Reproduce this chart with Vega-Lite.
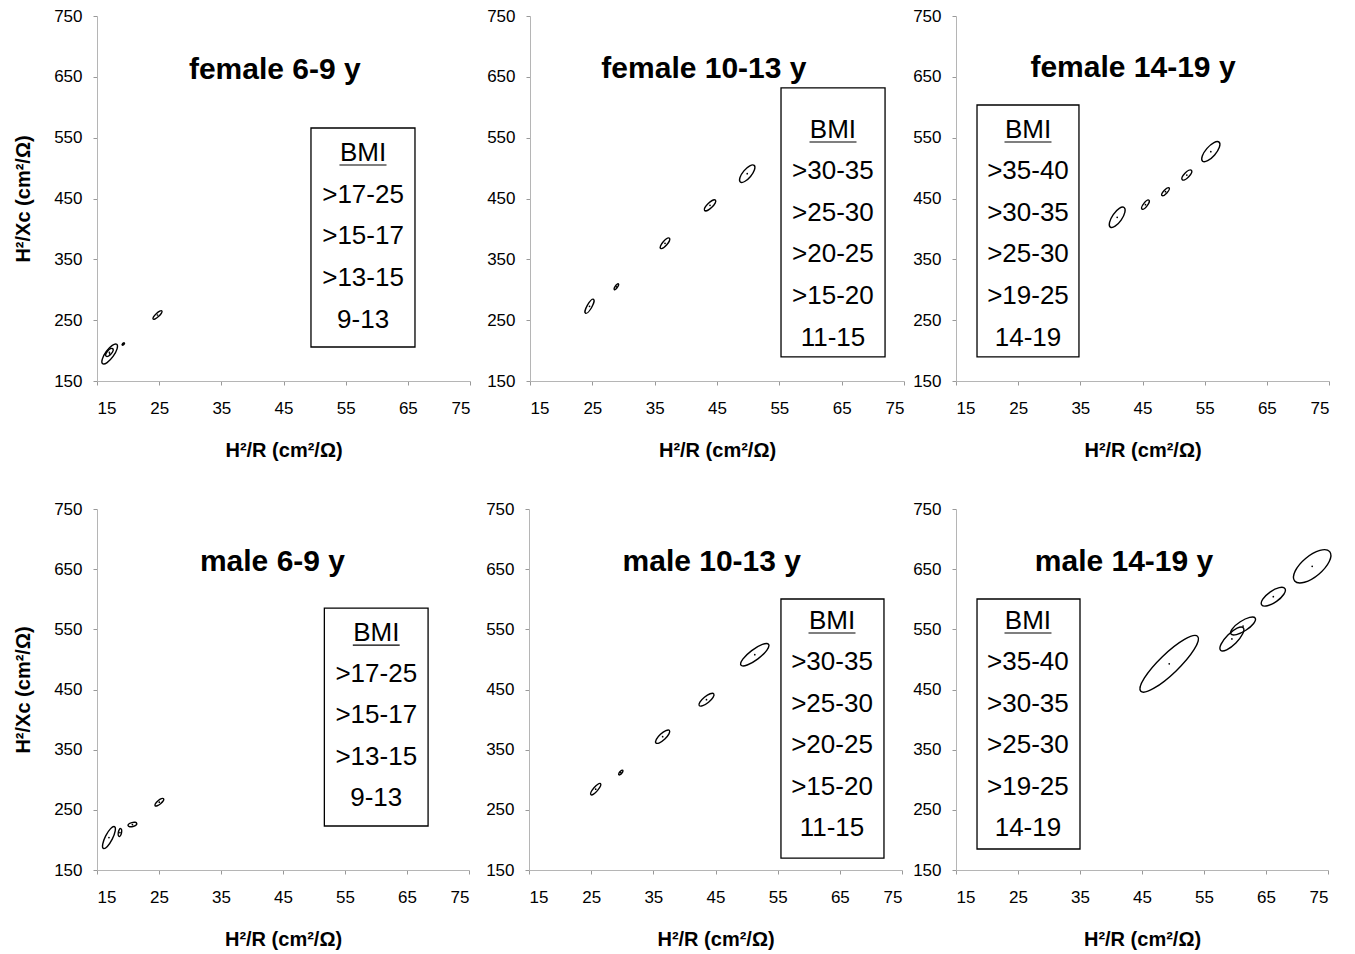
{
"$schema": "https://vega.github.io/schema/vega-lite/v6.json",
"padding": {"left": 13, "top": 7, "right": 5, "bottom": 5},
"config": {"font": "Liberation Sans", "view": {"stroke": null},
  "axis": {"labelFont": "Liberation Sans", "labelFontSize": 17, "labelColor": "black", "domainColor": "#b5b5b5", "tickColor": "#999999", "tickSize": 4, "grid": false, "titleFont": "Liberation Sans", "titleFontSize": 20, "titleFontWeight": "bold", "titleColor": "black"},
  "axisX": {"labelPadding": 15, "titlePadding": 24},
  "axisY": {"labelPadding": 11, "titlePadding": 20}},
"datasets": {
"ell": [
{"panel":"F1","bmi":"9-13","h2r":17.04,"h2xc":194.4,"spread":24,"ratio":"r35","tilt":54},
{"panel":"F1","bmi":">13-15","h2r":17.0,"h2xc":196.9,"spread":10,"ratio":"r45","tilt":50},
{"panel":"F1","bmi":">15-17","h2r":19.23,"h2xc":210.8,"spread":3,"ratio":"r55","tilt":45},
{"panel":"F1","bmi":">17-25","h2r":24.73,"h2xc":258.5,"spread":12,"ratio":"r30","tilt":43},
{"panel":"F2","bmi":"11-15","h2r":24.55,"h2xc":272.8,"spread":16,"ratio":"r30","tilt":60},
{"panel":"F2","bmi":">15-20","h2r":28.85,"h2xc":304.9,"spread":7,"ratio":"r35","tilt":55},
{"panel":"F2","bmi":">20-25","h2r":36.66,"h2xc":376.4,"spread":13.4,"ratio":"r35","tilt":48},
{"panel":"F2","bmi":">25-30","h2r":43.88,"h2xc":438.8,"spread":15,"ratio":"r35","tilt":43},
{"panel":"F2","bmi":">30-35","h2r":49.85,"h2xc":490.8,"spread":21.6,"ratio":"r40","tilt":50},
{"panel":"F3","bmi":"14-19","h2r":40.93,"h2xc":419.1,"spread":24,"ratio":"r40","tilt":55},
{"panel":"F3","bmi":">19-25","h2r":45.48,"h2xc":439.9,"spread":11.3,"ratio":"r35","tilt":52},
{"panel":"F3","bmi":">25-30","h2r":48.7,"h2xc":461.2,"spread":10.4,"ratio":"r35","tilt":47},
{"panel":"F3","bmi":">30-35","h2r":52.13,"h2xc":488.6,"spread":13,"ratio":"r40","tilt":46},
{"panel":"F3","bmi":">35-40","h2r":55.99,"h2xc":527,"spread":25.2,"ratio":"r40","tilt":49},
{"panel":"M1","bmi":"9-13","h2r":16.93,"h2xc":204,"spread":24.5,"ratio":"r30","tilt":63},
{"panel":"M1","bmi":">13-15","h2r":18.7,"h2xc":212.3,"spread":8,"ratio":"r40","tilt":80},
{"panel":"M1","bmi":">15-17","h2r":20.71,"h2xc":225.6,"spread":9,"ratio":"r45","tilt":15},
{"panel":"M1","bmi":">17-25","h2r":25.05,"h2xc":262.7,"spread":11,"ratio":"r35","tilt":40},
{"panel":"M2","bmi":"11-15","h2r":25.73,"h2xc":284.3,"spread":14.7,"ratio":"r30","tilt":50},
{"panel":"M2","bmi":">15-20","h2r":29.77,"h2xc":312,"spread":6,"ratio":"r40","tilt":50},
{"panel":"M2","bmi":">20-25","h2r":36.5,"h2xc":371.6,"spread":18.4,"ratio":"r35","tilt":43},
{"panel":"M2","bmi":">25-30","h2r":43.55,"h2xc":433,"spread":18.7,"ratio":"r35","tilt":39},
{"panel":"M2","bmi":">30-35","h2r":51.32,"h2xc":507.8,"spread":34.6,"ratio":"r30","tilt":37},
{"panel":"M3","bmi":"14-19","h2r":49.39,"h2xc":492.7,"spread":79,"ratio":"r25","tilt":44},
{"panel":"M3","bmi":">19-25","h2r":59.5,"h2xc":534,"spread":32,"ratio":"r35","tilt":45},
{"panel":"M3","bmi":">25-30","h2r":61.3,"h2xc":555.5,"spread":29,"ratio":"r35","tilt":33},
{"panel":"M3","bmi":">30-35","h2r":66.18,"h2xc":604.2,"spread":28.4,"ratio":"r40","tilt":35},
{"panel":"M3","bmi":">35-40","h2r":72.45,"h2xc":654.7,"spread":45.7,"ratio":"r45","tilt":40}
],
"box": [
{"panel":"F1","bx1":49.42,"bx2":66.15,"by1":205.9,"by2":565.9,"ux1":54.0,"ux2":61.57,"uy":505.1},
{"panel":"F2","bx1":55.27,"bx2":71.96,"by1":189.5,"by2":631.7,"ux1":59.84,"ux2":67.38,"uy":542.9},
{"panel":"F3","bx1":18.38,"bx2":34.78,"by1":189.5,"by2":603.7,"ux1":22.8,"ux2":30.36,"uy":542.9},
{"panel":"M1","bx1":51.67,"bx2":68.4,"by1":223.1,"by2":585.4,"ux1":56.26,"ux2":63.82,"uy":523.9},
{"panel":"M2","bx1":55.53,"bx2":72.1,"by1":169.9,"by2":600.4,"ux1":59.96,"ux2":67.52,"uy":543.9},
{"panel":"M3","bx1":18.39,"bx2":35.0,"by1":184.9,"by2":600.4,"ux1":22.82,"ux2":30.4,"uy":543.9}
],
"lab": [
{"panel":"F1","label":"BMI","lx":57.8,"ly":524.8},
{"panel":"F1","label":">17-25","lx":57.8,"ly":455.8},
{"panel":"F1","label":">15-17","lx":57.8,"ly":388.4},
{"panel":"F1","label":">13-15","lx":57.8,"ly":319.3},
{"panel":"F1","label":"9-13","lx":57.8,"ly":250.3},
{"panel":"F2","label":"BMI","lx":63.6,"ly":562.6},
{"panel":"F2","label":">30-35","lx":63.6,"ly":495.2},
{"panel":"F2","label":">25-30","lx":63.6,"ly":426.2},
{"panel":"F2","label":">20-25","lx":63.6,"ly":358.8},
{"panel":"F2","label":">15-20","lx":63.6,"ly":289.7},
{"panel":"F2","label":"11-15","lx":63.6,"ly":220.7},
{"panel":"F3","label":"BMI","lx":26.58,"ly":562.6},
{"panel":"F3","label":">35-40","lx":26.58,"ly":495.2},
{"panel":"F3","label":">30-35","lx":26.58,"ly":426.2},
{"panel":"F3","label":">25-30","lx":26.58,"ly":358.8},
{"panel":"F3","label":">19-25","lx":26.58,"ly":289.7},
{"panel":"F3","label":"14-19","lx":26.58,"ly":220.7},
{"panel":"M1","label":"BMI","lx":60.04,"ly":543.9},
{"panel":"M1","label":">17-25","lx":60.04,"ly":475.7},
{"panel":"M1","label":">15-17","lx":60.04,"ly":407.6},
{"panel":"M1","label":">13-15","lx":60.04,"ly":337.8},
{"panel":"M1","label":"9-13","lx":60.04,"ly":269.7},
{"panel":"M2","label":"BMI","lx":63.74,"ly":563.8},
{"panel":"M2","label":">30-35","lx":63.74,"ly":495.7},
{"panel":"M2","label":">25-30","lx":63.74,"ly":425.9},
{"panel":"M2","label":">20-25","lx":63.74,"ly":357.7},
{"panel":"M2","label":">15-20","lx":63.74,"ly":287.9},
{"panel":"M2","label":"11-15","lx":63.74,"ly":219.8},
{"panel":"M3","label":"BMI","lx":26.6,"ly":563.8},
{"panel":"M3","label":">35-40","lx":26.6,"ly":495.7},
{"panel":"M3","label":">30-35","lx":26.6,"ly":425.9},
{"panel":"M3","label":">25-30","lx":26.6,"ly":357.7},
{"panel":"M3","label":">19-25","lx":26.6,"ly":287.9},
{"panel":"M3","label":"14-19","lx":26.6,"ly":219.8}
],
"ttl": [
{"panel":"F1","title":"female 6-9 y","tx":43.6,"ty":661.3},
{"panel":"F2","title":"female 10-13 y","tx":42.9,"ty":662.9},
{"panel":"F3","title":"female 14-19 y","tx":43.47,"ty":664.5},
{"panel":"M1","title":"male 6-9 y","tx":43.3,"ty":661.9},
{"panel":"M2","title":"male 10-13 y","tx":44.4,"ty":661.9},
{"panel":"M3","title":"male 14-19 y","tx":42.1,"ty":661.9}
]
},
"bounds": "full",
"spacing": 40,
"vconcat": [
{"bounds": "flush", "spacing": 60, "hconcat": [
 {"width": 373, "height": 365, "layer": [
  {"data": {"name": "box"}, "transform": [{"filter": "datum.panel == 'F1'"}], "mark": {"type": "rect", "filled": false, "color": "black", "strokeWidth": 1.3},
   "encoding": {"x": {"field": "bx1", "type": "quantitative", "scale": {"domain": [15, 75], "nice": false, "zero": false}, "axis": {"values": [15,25,35,45,55,65,75], "title": "H²/R (cm²/Ω)"}},
    "x2": {"field": "bx2"},
    "y": {"field": "by1", "type": "quantitative", "scale": {"domain": [150, 750], "nice": false, "zero": false}, "axis": {"values": [150,250,350,450,550,650,750], "title": "H²/Xc (cm²/Ω)"}},
    "y2": {"field": "by2"}}},
  {"data": {"name": "box"}, "transform": [{"filter": "datum.panel == 'F1'"}], "mark": {"type": "rule", "color": "black", "strokeWidth": 1.2},
   "encoding": {"x": {"field": "ux1", "type": "quantitative"}, "x2": {"field": "ux2"}, "y": {"field": "uy", "type": "quantitative"}}},
  {"data": {"name": "lab"}, "transform": [{"filter": "datum.panel == 'F1'"}], "mark": {"type": "text", "fontSize": 26, "color": "black", "align": "center", "baseline": "middle"},
   "encoding": {"x": {"field": "lx", "type": "quantitative"}, "y": {"field": "ly", "type": "quantitative"}, "text": {"field": "label"}}},
  {"data": {"name": "ttl"}, "transform": [{"filter": "datum.panel == 'F1'"}], "mark": {"type": "text", "fontSize": 30, "fontWeight": "bold", "color": "black", "align": "center", "baseline": "middle"},
   "encoding": {"x": {"field": "tx", "type": "quantitative"}, "y": {"field": "ty", "type": "quantitative"}, "text": {"field": "title"}}},
  {"data": {"name": "ell"}, "transform": [{"filter": "datum.panel == 'F1'"}], "mark": {"type": "point", "filled": false, "color": "black", "strokeWidth": 1.4, "opacity": 1},
   "encoding": {"x": {"field": "h2r", "type": "quantitative"}, "y": {"field": "h2xc", "type": "quantitative"},
    "size": {"field": "spread", "type": "quantitative", "scale": {"type": "pow", "exponent": 2, "domain": [0, 100], "range": [0, 10000]}, "legend": null},
    "shape": {"field": "ratio", "type": "nominal", "scale": {"domain": ["r25","r30","r35","r40","r45","r55"], "range": ["M 1 0 C 1 0.138 0.552 0.25 0 0.25 C -0.552 0.25 -1 0.138 -1 0 C -1 -0.138 -0.552 -0.25 0 -0.25 C 0.552 -0.25 1 -0.138 1 0 Z","M 1 0 C 1 0.166 0.552 0.3 0 0.3 C -0.552 0.3 -1 0.166 -1 0 C -1 -0.166 -0.552 -0.3 0 -0.3 C 0.552 -0.3 1 -0.166 1 0 Z","M 1 0 C 1 0.193 0.552 0.35 0 0.35 C -0.552 0.35 -1 0.193 -1 0 C -1 -0.193 -0.552 -0.35 0 -0.35 C 0.552 -0.35 1 -0.193 1 0 Z","M 1 0 C 1 0.221 0.552 0.4 0 0.4 C -0.552 0.4 -1 0.221 -1 0 C -1 -0.221 -0.552 -0.4 0 -0.4 C 0.552 -0.4 1 -0.221 1 0 Z","M 1 0 C 1 0.249 0.552 0.45 0 0.45 C -0.552 0.45 -1 0.249 -1 0 C -1 -0.249 -0.552 -0.45 0 -0.45 C 0.552 -0.45 1 -0.249 1 0 Z","M 1 0 C 1 0.304 0.552 0.55 0 0.55 C -0.552 0.55 -1 0.304 -1 0 C -1 -0.304 -0.552 -0.55 0 -0.55 C 0.552 -0.55 1 -0.304 1 0 Z"]}, "legend": null},
    "angle": {"field": "tilt", "type": "quantitative", "scale": {"domain": [0, 90], "range": [360, 270]}, "legend": null}}},
  {"data": {"name": "ell"}, "transform": [{"filter": "datum.panel == 'F1'"}], "mark": {"type": "point", "filled": true, "color": "black", "size": 3, "opacity": 1, "shape": "circle"},
   "encoding": {"x": {"field": "h2r", "type": "quantitative"}, "y": {"field": "h2xc", "type": "quantitative"}}}
 ]},
 {"bounds": "flush", "spacing": 52, "hconcat": [
  {"width": 374, "height": 365, "layer": [
   {"data": {"name": "box"}, "transform": [{"filter": "datum.panel == 'F2'"}], "mark": {"type": "rect", "filled": false, "color": "black", "strokeWidth": 1.3},
    "encoding": {"x": {"field": "bx1", "type": "quantitative", "scale": {"domain": [15, 75], "nice": false, "zero": false}, "axis": {"values": [15,25,35,45,55,65,75], "title": "H²/R (cm²/Ω)"}},
     "x2": {"field": "bx2"},
     "y": {"field": "by1", "type": "quantitative", "scale": {"domain": [150, 750], "nice": false, "zero": false}, "axis": {"values": [150,250,350,450,550,650,750], "title": null}},
     "y2": {"field": "by2"}}},
   {"data": {"name": "box"}, "transform": [{"filter": "datum.panel == 'F2'"}], "mark": {"type": "rule", "color": "black", "strokeWidth": 1.2},
    "encoding": {"x": {"field": "ux1", "type": "quantitative"}, "x2": {"field": "ux2"}, "y": {"field": "uy", "type": "quantitative"}}},
   {"data": {"name": "lab"}, "transform": [{"filter": "datum.panel == 'F2'"}], "mark": {"type": "text", "fontSize": 26, "color": "black", "align": "center", "baseline": "middle"},
    "encoding": {"x": {"field": "lx", "type": "quantitative"}, "y": {"field": "ly", "type": "quantitative"}, "text": {"field": "label"}}},
   {"data": {"name": "ttl"}, "transform": [{"filter": "datum.panel == 'F2'"}], "mark": {"type": "text", "fontSize": 30, "fontWeight": "bold", "color": "black", "align": "center", "baseline": "middle"},
    "encoding": {"x": {"field": "tx", "type": "quantitative"}, "y": {"field": "ty", "type": "quantitative"}, "text": {"field": "title"}}},
   {"data": {"name": "ell"}, "transform": [{"filter": "datum.panel == 'F2'"}], "mark": {"type": "point", "filled": false, "color": "black", "strokeWidth": 1.4, "opacity": 1},
    "encoding": {"x": {"field": "h2r", "type": "quantitative"}, "y": {"field": "h2xc", "type": "quantitative"},
     "size": {"field": "spread", "type": "quantitative", "scale": {"type": "pow", "exponent": 2, "domain": [0, 100], "range": [0, 10000]}, "legend": null},
     "shape": {"field": "ratio", "type": "nominal", "scale": {"domain": ["r25","r30","r35","r40","r45","r55"], "range": ["M 1 0 C 1 0.138 0.552 0.25 0 0.25 C -0.552 0.25 -1 0.138 -1 0 C -1 -0.138 -0.552 -0.25 0 -0.25 C 0.552 -0.25 1 -0.138 1 0 Z","M 1 0 C 1 0.166 0.552 0.3 0 0.3 C -0.552 0.3 -1 0.166 -1 0 C -1 -0.166 -0.552 -0.3 0 -0.3 C 0.552 -0.3 1 -0.166 1 0 Z","M 1 0 C 1 0.193 0.552 0.35 0 0.35 C -0.552 0.35 -1 0.193 -1 0 C -1 -0.193 -0.552 -0.35 0 -0.35 C 0.552 -0.35 1 -0.193 1 0 Z","M 1 0 C 1 0.221 0.552 0.4 0 0.4 C -0.552 0.4 -1 0.221 -1 0 C -1 -0.221 -0.552 -0.4 0 -0.4 C 0.552 -0.4 1 -0.221 1 0 Z","M 1 0 C 1 0.249 0.552 0.45 0 0.45 C -0.552 0.45 -1 0.249 -1 0 C -1 -0.249 -0.552 -0.45 0 -0.45 C 0.552 -0.45 1 -0.249 1 0 Z","M 1 0 C 1 0.304 0.552 0.55 0 0.55 C -0.552 0.55 -1 0.304 -1 0 C -1 -0.304 -0.552 -0.55 0 -0.55 C 0.552 -0.55 1 -0.304 1 0 Z"]}, "legend": null},
     "angle": {"field": "tilt", "type": "quantitative", "scale": {"domain": [0, 90], "range": [360, 270]}, "legend": null}}},
   {"data": {"name": "ell"}, "transform": [{"filter": "datum.panel == 'F2'"}], "mark": {"type": "point", "filled": true, "color": "black", "size": 3, "opacity": 1, "shape": "circle"},
    "encoding": {"x": {"field": "h2r", "type": "quantitative"}, "y": {"field": "h2xc", "type": "quantitative"}}}
  ]},
  {"width": 373, "height": 365, "layer": [
   {"data": {"name": "box"}, "transform": [{"filter": "datum.panel == 'F3'"}], "mark": {"type": "rect", "filled": false, "color": "black", "strokeWidth": 1.3},
    "encoding": {"x": {"field": "bx1", "type": "quantitative", "scale": {"domain": [15, 75], "nice": false, "zero": false}, "axis": {"values": [15,25,35,45,55,65,75], "title": "H²/R (cm²/Ω)"}},
     "x2": {"field": "bx2"},
     "y": {"field": "by1", "type": "quantitative", "scale": {"domain": [150, 750], "nice": false, "zero": false}, "axis": {"values": [150,250,350,450,550,650,750], "title": null}},
     "y2": {"field": "by2"}}},
   {"data": {"name": "box"}, "transform": [{"filter": "datum.panel == 'F3'"}], "mark": {"type": "rule", "color": "black", "strokeWidth": 1.2},
    "encoding": {"x": {"field": "ux1", "type": "quantitative"}, "x2": {"field": "ux2"}, "y": {"field": "uy", "type": "quantitative"}}},
   {"data": {"name": "lab"}, "transform": [{"filter": "datum.panel == 'F3'"}], "mark": {"type": "text", "fontSize": 26, "color": "black", "align": "center", "baseline": "middle"},
    "encoding": {"x": {"field": "lx", "type": "quantitative"}, "y": {"field": "ly", "type": "quantitative"}, "text": {"field": "label"}}},
   {"data": {"name": "ttl"}, "transform": [{"filter": "datum.panel == 'F3'"}], "mark": {"type": "text", "fontSize": 30, "fontWeight": "bold", "color": "black", "align": "center", "baseline": "middle"},
    "encoding": {"x": {"field": "tx", "type": "quantitative"}, "y": {"field": "ty", "type": "quantitative"}, "text": {"field": "title"}}},
   {"data": {"name": "ell"}, "transform": [{"filter": "datum.panel == 'F3'"}], "mark": {"type": "point", "filled": false, "color": "black", "strokeWidth": 1.4, "opacity": 1},
    "encoding": {"x": {"field": "h2r", "type": "quantitative"}, "y": {"field": "h2xc", "type": "quantitative"},
     "size": {"field": "spread", "type": "quantitative", "scale": {"type": "pow", "exponent": 2, "domain": [0, 100], "range": [0, 10000]}, "legend": null},
     "shape": {"field": "ratio", "type": "nominal", "scale": {"domain": ["r25","r30","r35","r40","r45","r55"], "range": ["M 1 0 C 1 0.138 0.552 0.25 0 0.25 C -0.552 0.25 -1 0.138 -1 0 C -1 -0.138 -0.552 -0.25 0 -0.25 C 0.552 -0.25 1 -0.138 1 0 Z","M 1 0 C 1 0.166 0.552 0.3 0 0.3 C -0.552 0.3 -1 0.166 -1 0 C -1 -0.166 -0.552 -0.3 0 -0.3 C 0.552 -0.3 1 -0.166 1 0 Z","M 1 0 C 1 0.193 0.552 0.35 0 0.35 C -0.552 0.35 -1 0.193 -1 0 C -1 -0.193 -0.552 -0.35 0 -0.35 C 0.552 -0.35 1 -0.193 1 0 Z","M 1 0 C 1 0.221 0.552 0.4 0 0.4 C -0.552 0.4 -1 0.221 -1 0 C -1 -0.221 -0.552 -0.4 0 -0.4 C 0.552 -0.4 1 -0.221 1 0 Z","M 1 0 C 1 0.249 0.552 0.45 0 0.45 C -0.552 0.45 -1 0.249 -1 0 C -1 -0.249 -0.552 -0.45 0 -0.45 C 0.552 -0.45 1 -0.249 1 0 Z","M 1 0 C 1 0.304 0.552 0.55 0 0.55 C -0.552 0.55 -1 0.304 -1 0 C -1 -0.304 -0.552 -0.55 0 -0.55 C 0.552 -0.55 1 -0.304 1 0 Z"]}, "legend": null},
     "angle": {"field": "tilt", "type": "quantitative", "scale": {"domain": [0, 90], "range": [360, 270]}, "legend": null}}},
   {"data": {"name": "ell"}, "transform": [{"filter": "datum.panel == 'F3'"}], "mark": {"type": "point", "filled": true, "color": "black", "size": 3, "opacity": 1, "shape": "circle"},
    "encoding": {"x": {"field": "h2r", "type": "quantitative"}, "y": {"field": "h2xc", "type": "quantitative"}}}
  ]}
 ]}
]},
{"bounds": "flush", "spacing": 60, "hconcat": [
 {"width": 372, "height": 361, "layer": [
  {"data": {"name": "box"}, "transform": [{"filter": "datum.panel == 'M1'"}], "mark": {"type": "rect", "filled": false, "color": "black", "strokeWidth": 1.3},
   "encoding": {"x": {"field": "bx1", "type": "quantitative", "scale": {"domain": [15, 75], "nice": false, "zero": false}, "axis": {"values": [15,25,35,45,55,65,75], "title": "H²/R (cm²/Ω)"}},
    "x2": {"field": "bx2"},
    "y": {"field": "by1", "type": "quantitative", "scale": {"domain": [150, 750], "nice": false, "zero": false}, "axis": {"values": [150,250,350,450,550,650,750], "title": "H²/Xc (cm²/Ω)"}},
    "y2": {"field": "by2"}}},
  {"data": {"name": "box"}, "transform": [{"filter": "datum.panel == 'M1'"}], "mark": {"type": "rule", "color": "black", "strokeWidth": 1.2},
   "encoding": {"x": {"field": "ux1", "type": "quantitative"}, "x2": {"field": "ux2"}, "y": {"field": "uy", "type": "quantitative"}}},
  {"data": {"name": "lab"}, "transform": [{"filter": "datum.panel == 'M1'"}], "mark": {"type": "text", "fontSize": 26, "color": "black", "align": "center", "baseline": "middle"},
   "encoding": {"x": {"field": "lx", "type": "quantitative"}, "y": {"field": "ly", "type": "quantitative"}, "text": {"field": "label"}}},
  {"data": {"name": "ttl"}, "transform": [{"filter": "datum.panel == 'M1'"}], "mark": {"type": "text", "fontSize": 30, "fontWeight": "bold", "color": "black", "align": "center", "baseline": "middle"},
   "encoding": {"x": {"field": "tx", "type": "quantitative"}, "y": {"field": "ty", "type": "quantitative"}, "text": {"field": "title"}}},
  {"data": {"name": "ell"}, "transform": [{"filter": "datum.panel == 'M1'"}], "mark": {"type": "point", "filled": false, "color": "black", "strokeWidth": 1.4, "opacity": 1},
   "encoding": {"x": {"field": "h2r", "type": "quantitative"}, "y": {"field": "h2xc", "type": "quantitative"},
    "size": {"field": "spread", "type": "quantitative", "scale": {"type": "pow", "exponent": 2, "domain": [0, 100], "range": [0, 10000]}, "legend": null},
    "shape": {"field": "ratio", "type": "nominal", "scale": {"domain": ["r25","r30","r35","r40","r45","r55"], "range": ["M 1 0 C 1 0.138 0.552 0.25 0 0.25 C -0.552 0.25 -1 0.138 -1 0 C -1 -0.138 -0.552 -0.25 0 -0.25 C 0.552 -0.25 1 -0.138 1 0 Z","M 1 0 C 1 0.166 0.552 0.3 0 0.3 C -0.552 0.3 -1 0.166 -1 0 C -1 -0.166 -0.552 -0.3 0 -0.3 C 0.552 -0.3 1 -0.166 1 0 Z","M 1 0 C 1 0.193 0.552 0.35 0 0.35 C -0.552 0.35 -1 0.193 -1 0 C -1 -0.193 -0.552 -0.35 0 -0.35 C 0.552 -0.35 1 -0.193 1 0 Z","M 1 0 C 1 0.221 0.552 0.4 0 0.4 C -0.552 0.4 -1 0.221 -1 0 C -1 -0.221 -0.552 -0.4 0 -0.4 C 0.552 -0.4 1 -0.221 1 0 Z","M 1 0 C 1 0.249 0.552 0.45 0 0.45 C -0.552 0.45 -1 0.249 -1 0 C -1 -0.249 -0.552 -0.45 0 -0.45 C 0.552 -0.45 1 -0.249 1 0 Z","M 1 0 C 1 0.304 0.552 0.55 0 0.55 C -0.552 0.55 -1 0.304 -1 0 C -1 -0.304 -0.552 -0.55 0 -0.55 C 0.552 -0.55 1 -0.304 1 0 Z"]}, "legend": null},
    "angle": {"field": "tilt", "type": "quantitative", "scale": {"domain": [0, 90], "range": [360, 270]}, "legend": null}}},
  {"data": {"name": "ell"}, "transform": [{"filter": "datum.panel == 'M1'"}], "mark": {"type": "point", "filled": true, "color": "black", "size": 3, "opacity": 1, "shape": "circle"},
   "encoding": {"x": {"field": "h2r", "type": "quantitative"}, "y": {"field": "h2xc", "type": "quantitative"}}}
 ]},
 {"bounds": "flush", "spacing": 54, "hconcat": [
  {"width": 373, "height": 361, "layer": [
   {"data": {"name": "box"}, "transform": [{"filter": "datum.panel == 'M2'"}], "mark": {"type": "rect", "filled": false, "color": "black", "strokeWidth": 1.3},
    "encoding": {"x": {"field": "bx1", "type": "quantitative", "scale": {"domain": [15, 75], "nice": false, "zero": false}, "axis": {"values": [15,25,35,45,55,65,75], "title": "H²/R (cm²/Ω)"}},
     "x2": {"field": "bx2"},
     "y": {"field": "by1", "type": "quantitative", "scale": {"domain": [150, 750], "nice": false, "zero": false}, "axis": {"values": [150,250,350,450,550,650,750], "title": null}},
     "y2": {"field": "by2"}}},
   {"data": {"name": "box"}, "transform": [{"filter": "datum.panel == 'M2'"}], "mark": {"type": "rule", "color": "black", "strokeWidth": 1.2},
    "encoding": {"x": {"field": "ux1", "type": "quantitative"}, "x2": {"field": "ux2"}, "y": {"field": "uy", "type": "quantitative"}}},
   {"data": {"name": "lab"}, "transform": [{"filter": "datum.panel == 'M2'"}], "mark": {"type": "text", "fontSize": 26, "color": "black", "align": "center", "baseline": "middle"},
    "encoding": {"x": {"field": "lx", "type": "quantitative"}, "y": {"field": "ly", "type": "quantitative"}, "text": {"field": "label"}}},
   {"data": {"name": "ttl"}, "transform": [{"filter": "datum.panel == 'M2'"}], "mark": {"type": "text", "fontSize": 30, "fontWeight": "bold", "color": "black", "align": "center", "baseline": "middle"},
    "encoding": {"x": {"field": "tx", "type": "quantitative"}, "y": {"field": "ty", "type": "quantitative"}, "text": {"field": "title"}}},
   {"data": {"name": "ell"}, "transform": [{"filter": "datum.panel == 'M2'"}], "mark": {"type": "point", "filled": false, "color": "black", "strokeWidth": 1.4, "opacity": 1},
    "encoding": {"x": {"field": "h2r", "type": "quantitative"}, "y": {"field": "h2xc", "type": "quantitative"},
     "size": {"field": "spread", "type": "quantitative", "scale": {"type": "pow", "exponent": 2, "domain": [0, 100], "range": [0, 10000]}, "legend": null},
     "shape": {"field": "ratio", "type": "nominal", "scale": {"domain": ["r25","r30","r35","r40","r45","r55"], "range": ["M 1 0 C 1 0.138 0.552 0.25 0 0.25 C -0.552 0.25 -1 0.138 -1 0 C -1 -0.138 -0.552 -0.25 0 -0.25 C 0.552 -0.25 1 -0.138 1 0 Z","M 1 0 C 1 0.166 0.552 0.3 0 0.3 C -0.552 0.3 -1 0.166 -1 0 C -1 -0.166 -0.552 -0.3 0 -0.3 C 0.552 -0.3 1 -0.166 1 0 Z","M 1 0 C 1 0.193 0.552 0.35 0 0.35 C -0.552 0.35 -1 0.193 -1 0 C -1 -0.193 -0.552 -0.35 0 -0.35 C 0.552 -0.35 1 -0.193 1 0 Z","M 1 0 C 1 0.221 0.552 0.4 0 0.4 C -0.552 0.4 -1 0.221 -1 0 C -1 -0.221 -0.552 -0.4 0 -0.4 C 0.552 -0.4 1 -0.221 1 0 Z","M 1 0 C 1 0.249 0.552 0.45 0 0.45 C -0.552 0.45 -1 0.249 -1 0 C -1 -0.249 -0.552 -0.45 0 -0.45 C 0.552 -0.45 1 -0.249 1 0 Z","M 1 0 C 1 0.304 0.552 0.55 0 0.55 C -0.552 0.55 -1 0.304 -1 0 C -1 -0.304 -0.552 -0.55 0 -0.55 C 0.552 -0.55 1 -0.304 1 0 Z"]}, "legend": null},
     "angle": {"field": "tilt", "type": "quantitative", "scale": {"domain": [0, 90], "range": [360, 270]}, "legend": null}}},
   {"data": {"name": "ell"}, "transform": [{"filter": "datum.panel == 'M2'"}], "mark": {"type": "point", "filled": true, "color": "black", "size": 3, "opacity": 1, "shape": "circle"},
    "encoding": {"x": {"field": "h2r", "type": "quantitative"}, "y": {"field": "h2xc", "type": "quantitative"}}}
  ]},
  {"width": 372, "height": 361, "layer": [
   {"data": {"name": "box"}, "transform": [{"filter": "datum.panel == 'M3'"}], "mark": {"type": "rect", "filled": false, "color": "black", "strokeWidth": 1.3},
    "encoding": {"x": {"field": "bx1", "type": "quantitative", "scale": {"domain": [15, 75], "nice": false, "zero": false}, "axis": {"values": [15,25,35,45,55,65,75], "title": "H²/R (cm²/Ω)"}},
     "x2": {"field": "bx2"},
     "y": {"field": "by1", "type": "quantitative", "scale": {"domain": [150, 750], "nice": false, "zero": false}, "axis": {"values": [150,250,350,450,550,650,750], "title": null}},
     "y2": {"field": "by2"}}},
   {"data": {"name": "box"}, "transform": [{"filter": "datum.panel == 'M3'"}], "mark": {"type": "rule", "color": "black", "strokeWidth": 1.2},
    "encoding": {"x": {"field": "ux1", "type": "quantitative"}, "x2": {"field": "ux2"}, "y": {"field": "uy", "type": "quantitative"}}},
   {"data": {"name": "lab"}, "transform": [{"filter": "datum.panel == 'M3'"}], "mark": {"type": "text", "fontSize": 26, "color": "black", "align": "center", "baseline": "middle"},
    "encoding": {"x": {"field": "lx", "type": "quantitative"}, "y": {"field": "ly", "type": "quantitative"}, "text": {"field": "label"}}},
   {"data": {"name": "ttl"}, "transform": [{"filter": "datum.panel == 'M3'"}], "mark": {"type": "text", "fontSize": 30, "fontWeight": "bold", "color": "black", "align": "center", "baseline": "middle"},
    "encoding": {"x": {"field": "tx", "type": "quantitative"}, "y": {"field": "ty", "type": "quantitative"}, "text": {"field": "title"}}},
   {"data": {"name": "ell"}, "transform": [{"filter": "datum.panel == 'M3'"}], "mark": {"type": "point", "filled": false, "color": "black", "strokeWidth": 1.4, "opacity": 1},
    "encoding": {"x": {"field": "h2r", "type": "quantitative"}, "y": {"field": "h2xc", "type": "quantitative"},
     "size": {"field": "spread", "type": "quantitative", "scale": {"type": "pow", "exponent": 2, "domain": [0, 100], "range": [0, 10000]}, "legend": null},
     "shape": {"field": "ratio", "type": "nominal", "scale": {"domain": ["r25","r30","r35","r40","r45","r55"], "range": ["M 1 0 C 1 0.138 0.552 0.25 0 0.25 C -0.552 0.25 -1 0.138 -1 0 C -1 -0.138 -0.552 -0.25 0 -0.25 C 0.552 -0.25 1 -0.138 1 0 Z","M 1 0 C 1 0.166 0.552 0.3 0 0.3 C -0.552 0.3 -1 0.166 -1 0 C -1 -0.166 -0.552 -0.3 0 -0.3 C 0.552 -0.3 1 -0.166 1 0 Z","M 1 0 C 1 0.193 0.552 0.35 0 0.35 C -0.552 0.35 -1 0.193 -1 0 C -1 -0.193 -0.552 -0.35 0 -0.35 C 0.552 -0.35 1 -0.193 1 0 Z","M 1 0 C 1 0.221 0.552 0.4 0 0.4 C -0.552 0.4 -1 0.221 -1 0 C -1 -0.221 -0.552 -0.4 0 -0.4 C 0.552 -0.4 1 -0.221 1 0 Z","M 1 0 C 1 0.249 0.552 0.45 0 0.45 C -0.552 0.45 -1 0.249 -1 0 C -1 -0.249 -0.552 -0.45 0 -0.45 C 0.552 -0.45 1 -0.249 1 0 Z","M 1 0 C 1 0.304 0.552 0.55 0 0.55 C -0.552 0.55 -1 0.304 -1 0 C -1 -0.304 -0.552 -0.55 0 -0.55 C 0.552 -0.55 1 -0.304 1 0 Z"]}, "legend": null},
     "angle": {"field": "tilt", "type": "quantitative", "scale": {"domain": [0, 90], "range": [360, 270]}, "legend": null}}},
   {"data": {"name": "ell"}, "transform": [{"filter": "datum.panel == 'M3'"}], "mark": {"type": "point", "filled": true, "color": "black", "size": 3, "opacity": 1, "shape": "circle"},
    "encoding": {"x": {"field": "h2r", "type": "quantitative"}, "y": {"field": "h2xc", "type": "quantitative"}}}
  ]}
 ]}
]}
]
}
